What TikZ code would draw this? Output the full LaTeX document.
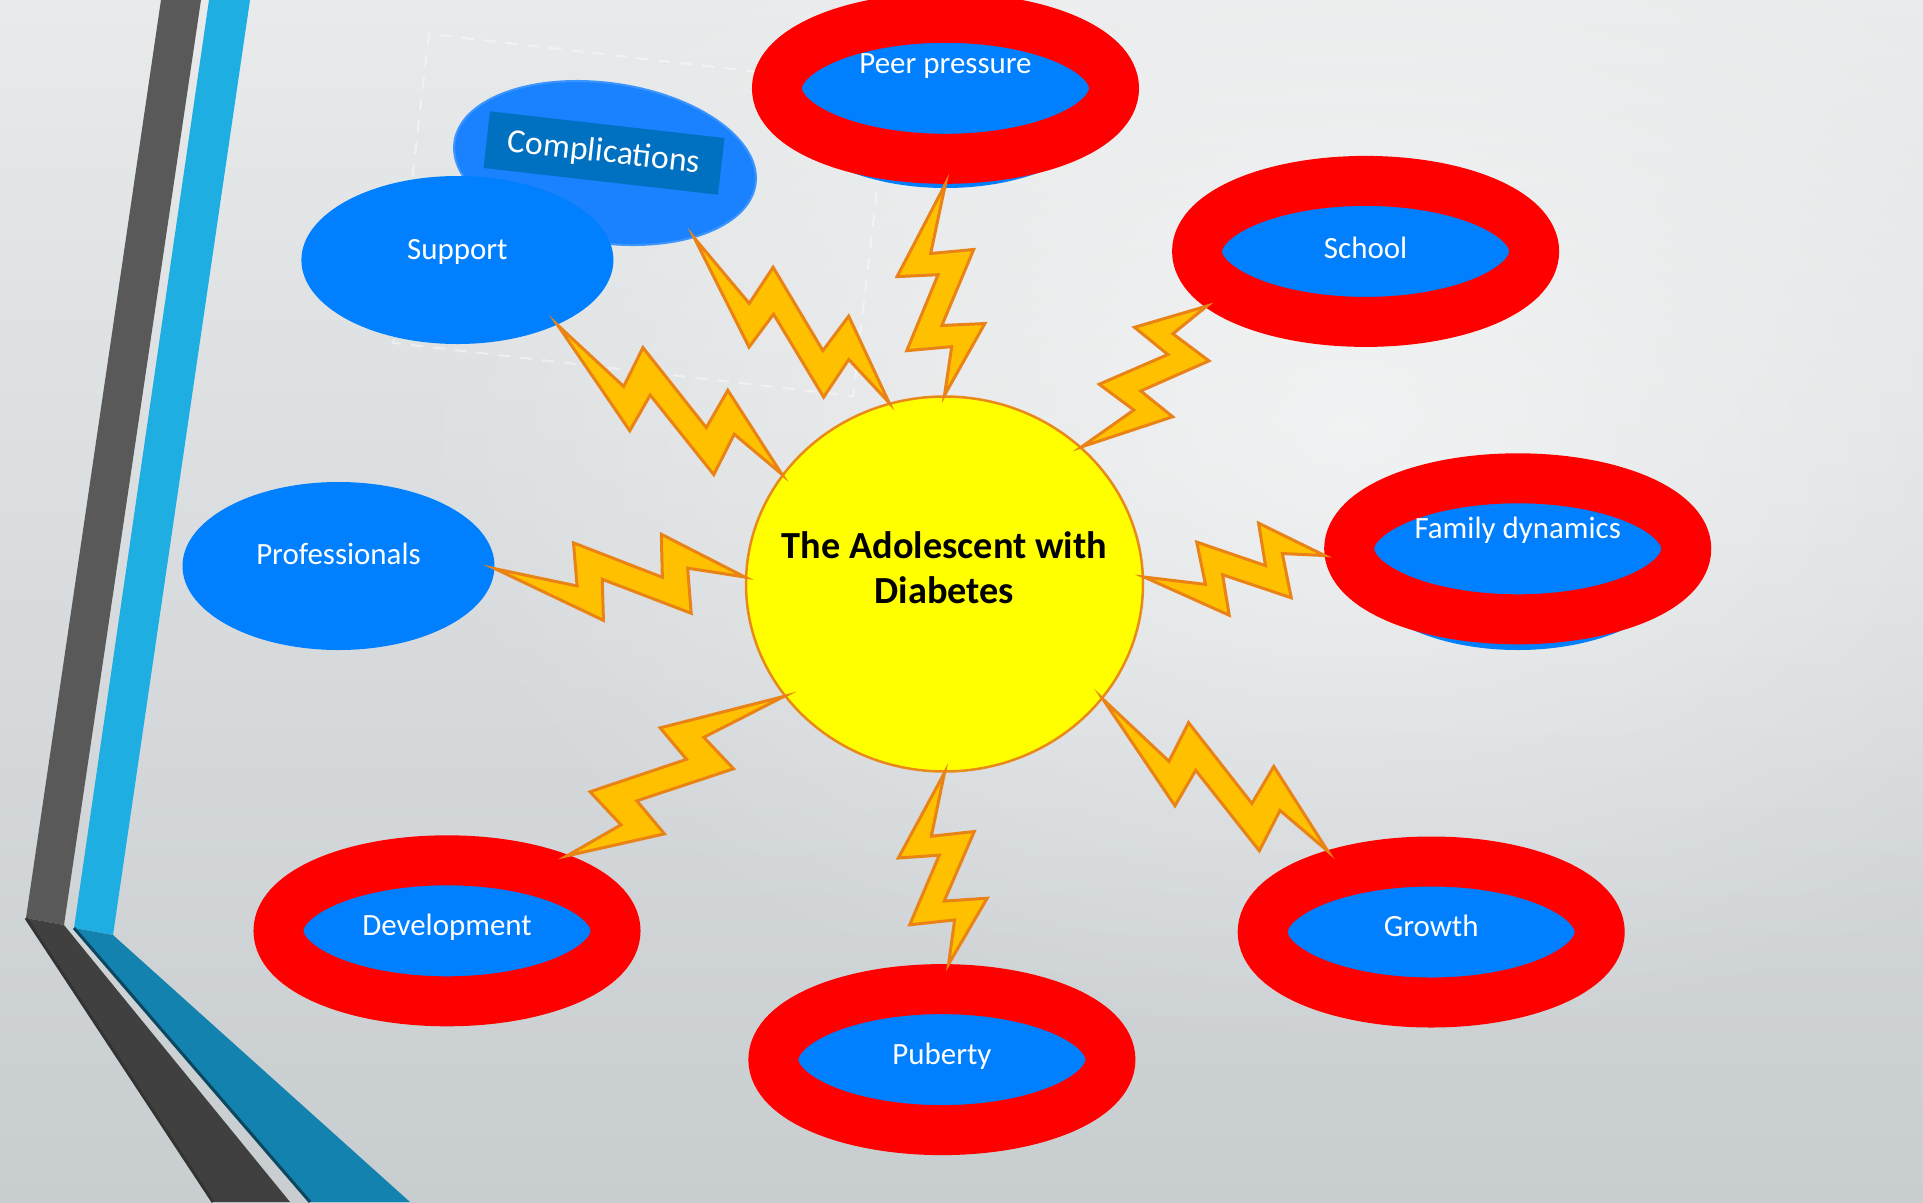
\documentclass[tikz,border=0pt]{standalone}
\usepackage{fontspec}
\setmainfont{Carlito}
\usetikzlibrary{%
  shapes.geometric,% ellipse
  calc,%
  fadings%
}

\definecolor{bgtop}{HTML}{E8EAEB}
\definecolor{bgmid}{HTML}{EDEFF0}
\definecolor{bgbottom}{HTML}{C8CDD0}
\definecolor{bardark}{HTML}{595959}
\definecolor{bardeep}{HTML}{404040}
\definecolor{barblue}{HTML}{1EAEE2}
\definecolor{bardeepblue}{HTML}{1482AE}
\definecolor{nodeblue}{HTML}{0080FF}
\definecolor{compblue}{HTML}{1A82FF}
\definecolor{boxblue}{HTML}{0070C0}
\definecolor{ringred}{HTML}{FF0000}
\definecolor{hubyellow}{HTML}{FFFF00}
\definecolor{hubline}{HTML}{E8891A}
\definecolor{boltfill}{HTML}{FFC000}
\definecolor{boltline}{HTML}{EA8316}

\tikzfading[name=glow, inner color=transparent!0, outer color=transparent!100]

\newcommand\bubblefont{\fontsize{8.8}{10.5}\selectfont}
\newcommand\hubfont{\bfseries\fontsize{10.9}{12.8}\selectfont}
\newcommand\compfont{\fontsize{9.6}{11}\selectfont}

% zigzag lightning bolt from one anchor to another
\newcommand\bolt[2]{%
  \filldraw[bolt] (#1)
    -- ($(#1)!.33!(#2)!-1.45mm!90:(#2)$)
    -- ($(#1)!.31!(#2)!2.85mm!90:(#2)$)
    -- ($(#1)!.67!(#2)!-.3mm!90:(#2)$)
    -- ($(#1)!.66!(#2)!4mm!90:(#2)$)
    -- (#2)
    -- ($(#1)!.77!(#2)!.7mm!90:(#2)$)
    -- ($(#1)!.79!(#2)!-3.8mm!90:(#2)$)
    -- ($(#1)!.43!(#2)!-.7mm!90:(#2)$)
    -- ($(#1)!.44!(#2)!-4.8mm!90:(#2)$)
    -- cycle;}

\begin{document}
\begin{tikzpicture}
  [
  x=.1mm, y=-.1mm,
  bubble/.style={ellipse, fill=nodeblue, text=white, inner sep=0pt,
    minimum width=31.2mm, minimum height=16.8mm, font=\bubblefont,
    text height=2.2mm, text depth=1.2mm},
  ring/.style={bubble, draw=ringred, line width=5mm, outer sep=2.5mm,
    minimum width=33.7mm, minimum height=14.1mm},
  ringbase/.style={ellipse, fill=nodeblue, inner sep=0pt,
    minimum width=33mm, minimum height=17.6mm},
  hub/.style={ellipse, fill=hubyellow, draw=hubline, line width=.25mm,
    inner sep=0pt, minimum width=39.7mm, minimum height=37.5mm},
  hubtext/.style={align=center, font=\hubfont, yshift=1.65mm},
  bolt/.style={fill=boltfill, draw=boltline, line width=.3mm},
  ]

  \useasboundingbox (0,0) rectangle (1923,1202);

  % slide background
  \shade[top color=bgtop, middle color=bgmid, bottom color=bgbottom]
    (0,0) rectangle (1923,1202);
  \fill[white, opacity=.6, path fading=glow]
    (1350,430) ellipse [x radius=95mm, y radius=62mm];

  % bars on the left
  \fill[bardark] (161,0) -- (201,0) -- (64,925) -- (26,918) -- cycle;
  \fill[barblue] (209,0) -- (250,0) -- (113,935) -- (74,928) -- cycle;
  \fill[bardeep] (26,918) -- (64,925) -- (290,1202) -- (213,1202) -- cycle;
  \fill[bardeepblue] (74,928) -- (113,935) -- (410,1202) -- (310,1202) -- cycle;
  \draw[black!80, line width=.3mm] (26,918) -- (213,1202);
  \draw[bardeepblue!55!black, line width=.3mm] (74,928) -- (310,1202);

  \node[rotate=-6.6, draw=white, dash pattern=on 1.2mm off 1mm, line width=.2mm, opacity=.45,
    minimum width=46.3mm, minimum height=31.1mm, inner sep=0pt] (frame) at (641,215) {};

  \node[ellipse, fill=compblue, draw=compblue!85!white, line width=.2mm,
    rotate=-8, minimum width=30.4mm, minimum height=16mm, inner sep=0pt] (comp) at (605,163) {};
  \node[fill=boxblue, text=white, rotate=-6.5, font=\compfont, inner sep=0pt,
    minimum width=23.6mm, minimum height=5.7mm] (compbox) at (604,153) {Complications};

  \node[bubble, text depth=2.4mm] (support) at (457.4,260) {Support};
  \node[bubble, text depth=2.5mm] (professionals) at (338.5,566) {Professionals};

  \node[ringbase] (peerbase) at (945.5,100) {};
  \node[ring, text depth=5.1mm] (peer) at (945.5,88.3) {Peer pressure};
  \node[ring, text depth=.7mm] (school) at (1365.6,251.4) {School};
  \node[ringbase] (familybase) at (1517.7,562) {};
  \node[ring, text depth=4.2mm] (family) at (1517.7,548.8) {Family dynamics};
  \node[ring, text depth=1.4mm] (growth) at (1431.2,932) {Growth};
  \node[ring] (puberty) at (941.9,1059.6) {Puberty};
  \node[ring] (development) at (447,930.8) {Development};

  \node[hub, label={[hubtext]center:The Adolescent with\\Diabetes}] (hub) at (944.5,584) {};

  \bolt{support.-33}{hub.146}
  \bolt{comp.-32}{hub.107}
  \bolt{peer.south}{hub.north}
  \bolt{hub.45}{school.199}
  \bolt{hub.2}{family.182}
  \bolt{hub.-36}{growth.142}
  \bolt{hub.south}{puberty.86}
  \bolt{hub.215}{development.32}
  \bolt{professionals.-1.5}{hub.178}
\end{tikzpicture}
\end{document}
